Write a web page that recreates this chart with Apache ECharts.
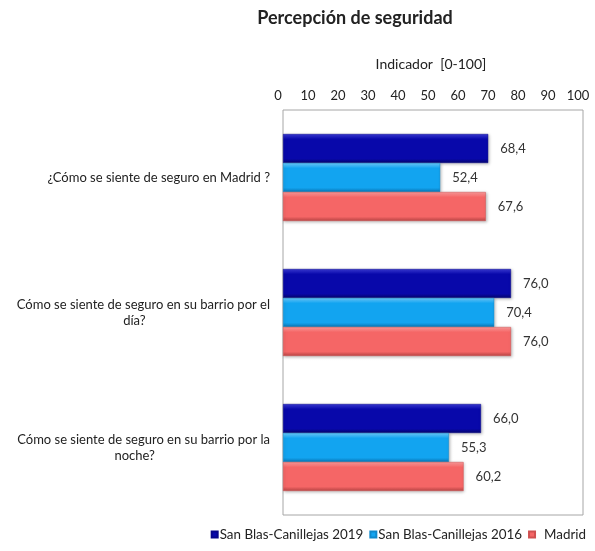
<!DOCTYPE html>
<html>
<head>
<meta charset="utf-8">
<script src="https://cdn.jsdelivr.net/npm/echarts@6/dist/echarts.min.js"></script>
<style>
  html, body { margin: 0; padding: 0; background: #fff; }
  #chart { width: 595px; height: 551px; }
</style>
</head>
<body>
<div id="chart"></div>
<script>
// Percepción de seguridad – indicador 0-100
const categories = [
  "¿Cómo se siente de seguro en Madrid ?",
  "Cómo se siente de seguro en su barrio por el\ndía?",
  "Cómo se siente de seguro en su barrio por la\nnoche?"
];
const sanBlas2019 = [68.4, 76.0, 66.0];
const sanBlas2016 = [52.4, 70.4, 55.3];
const madrid = [67.6, 76.0, 60.2];
const xTicks = [0, 10, 20, 30, 40, 50, 60, 70, 80, 90, 100];

const FONT = "Lato";
const INK = "#222";

function shade(top, mid, bottom) {
  return new echarts.graphic.LinearGradient(0, 0, 0, 1, [
    { offset: 0, color: top },
    { offset: 0.18, color: mid },
    { offset: 0.85, color: mid },
    { offset: 1, color: bottom }
  ]);
}

function barSeries(name, data, fill, edge) {
  return {
    name,
    type: "bar",
    data,
    barWidth: 29,
    barGap: "0%",
    itemStyle: {
      color: fill,
      borderColor: edge,
      borderWidth: 0.5,
      shadowColor: "rgba(0,0,0,0.25)",
      shadowBlur: 3,
      shadowOffsetX: 1,
      shadowOffsetY: 1
    },
    label: {
      show: true,
      position: "right",
      distance: 12,
      fontFamily: FONT,
      fontSize: 13,
      color: "#333",
      formatter: p => p.value.toFixed(1).replace(".", ",")
    }
  };
}

// wrapped labels: lines centred on each other, block right-aligned
function catLabel(v) {
  const lines = v.split("\n");
  if (lines.length === 1) return "{s|" + v + "}";
  return lines.map((s, i) => (i === 0 ? "{w|" : "{w2|") + s + "}").join("\n");
}

const chart = echarts.init(document.getElementById("chart"));
chart.setOption({
  animation: false,
  textStyle: { fontFamily: FONT },
  title: {
    text: "Percepción de seguridad",
    left: 350,
    textAlign: "center",
    top: 4,
    textStyle: { fontFamily: FONT, fontSize: 18, fontWeight: "bold", color: INK }
  },
  legend: {
    right: 4,
    bottom: 5,
    itemWidth: 6,
    itemHeight: 6,
    itemGap: 6,
    icon: "rect",
    textStyle: { fontFamily: FONT, fontSize: 13.4, color: INK, padding: [0, 0, 0, -3] },
    data: [
      "San Blas-Canillejas 2019",
      "San Blas-Canillejas 2016",
      { name: "Madrid", textStyle: { padding: [0, 0, 0, 4] } }
    ]
  },
  grid: {
    left: 283,
    right: 12,
    top: 110,
    bottom: 36,
    show: true,
    borderColor: "#a6a6a6",
    borderWidth: 1,
    backgroundColor: "#fff"
  },
  xAxis: {
    type: "value",
    position: "top",
    min: xTicks[0],
    max: xTicks[xTicks.length - 1],
    interval: 10,
    name: "Indicador  [0-100]",
    nameLocation: "middle",
    nameGap: 39,
    nameTextStyle: { fontFamily: FONT, fontSize: 14, color: INK, padding: [0, 4, 0, 0] },
    axisLine: { show: false },
    axisTick: { show: false },
    splitLine: { show: false },
    axisLabel: { fontFamily: FONT, fontSize: 13, color: INK, margin: 8, padding: [0, 10, 0, 0] }
  },
  yAxis: {
    type: "category",
    inverse: true,
    data: categories,
    axisLine: { show: false },
    axisTick: { show: false },
    axisLabel: {
      margin: 13,
      formatter: catLabel,
      rich: {
        w: { align: "center", fontFamily: FONT, fontSize: 13, color: INK, lineHeight: 16 },
        w2: { align: "center", fontFamily: FONT, fontSize: 13, color: INK, lineHeight: 16, padding: [0, 18, 0, 0] },
        s: { fontFamily: FONT, fontSize: 13, color: INK }
      }
    }
  },
  series: [
    barSeries("San Blas-Canillejas 2019", sanBlas2019,
      shade("#3a3ad8", "#0808aa", "#050570"), "#06068a"),
    barSeries("San Blas-Canillejas 2016", sanBlas2016,
      shade("#6cccff", "#12a4f0", "#0a78b8"), "#0c88cc"),
    barSeries("Madrid", madrid,
      shade("#ff9c9c", "#f56666", "#b84444"), "#d05050")
  ]
});
</script>
</body>
</html>
